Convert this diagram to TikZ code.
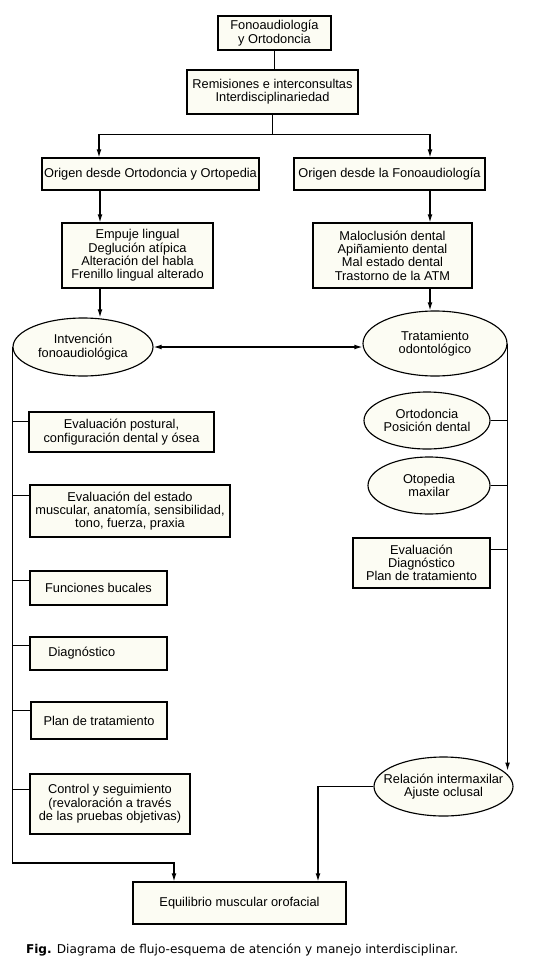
\documentclass[tikz,border=0pt]{standalone}
\usepackage{fontspec}
\setmainfont{Liberation Sans}
\newfontfamily\capfont{DejaVu Sans}
\usetikzlibrary{arrows.meta,positioning,calc,shapes.geometric}
\definecolor{boxCream}{RGB}{252,252,243}
\colorlet{cream}{boxCream}

\begin{document}
\begin{tikzpicture}[x=0.75pt,y=-0.75pt,>={Latex[length=6pt,width=3.6pt]},line width=0.85pt,
  sz/.style 2 args={minimum width=#1*0.75pt,minimum height=#2*0.75pt},
  box/.style={draw,fill=cream,inner sep=0pt,align=center,font=\fontsize{9.6}{10}\selectfont},
  oval/.style={draw,ellipse,fill=cream,inner xsep=-8pt,inner ysep=0pt,align=center,font=\fontsize{9.6}{10}\selectfont}]
\useasboundingbox (0,0) rectangle (554,975);
\node[box,sz={113}{34}] (top) at (274.5,33) {Fonoaudiología\\y Ortodoncia};
\node[box,sz={171}{44}] (rem) at (272.5,92) {Remisiones e interconsultas\\Interdisciplinariedad};
\node[box,sz={217}{32}] (origL) at (150.5,174) {Origen desde Ortodoncia y Ortopedia};
\node[box,sz={191}{32}] (origR) at (389.5,174) {Origen desde la Fonoaudiología};
\node[box,sz={151}{65}] (sympL) at (137.5,255.5) {Empuje lingual\\Deglución atípica\\Alteración del habla\\Frenillo lingual alterado};
\node[box,sz={159}{65}] (sympR) at (392.5,255.5) {Maloclusión dental\\Apiñamiento dental\\Mal estado dental\\Trastorno de la ATM};
\node[oval,sz={140}{58}] (intv) at (83,347) {Intvención\\fonoaudiológica};
\node[oval,sz={144}{65}] (trat) at (435,343.5) {Tratamiento\\odontológico};
% left column
\node[box,sz={185}{40}] (evp) at (121.5,432) {Evaluación postural,\\configuración dental y ósea};
\node[box,sz={200}{52}] (eve) at (130,511) {Evaluación del estado\\muscular, anatomía, sensibilidad,\\tono, fuerza, praxia};
\node[box,sz={137}{34}] (fun) at (98.5,588) {Funciones bucales};
\node[box,sz={137}{33}] (dia) at (98.5,653.5) {\hspace*{-25pt}Diagnóstico};
\node[box,sz={136}{37}] (plan) at (99,720.5) {Plan de tratamiento};
\node[box,sz={160}{60}] (ctrl) at (110,804) {Control y seguimiento\\(revaloración a través\\de las pruebas objetivas)};
% right column
\node[oval,sz={126}{57}] (ort) at (427,420.5) {Ortodoncia\\Posición dental};
\node[oval,sz={122}{57}] (otp) at (429,485.5) {Otopedia\\maxilar};
\node[box,sz={137}{50}] (evd) at (421.5,563) {Evaluación\\Diagnóstico\\Plan de tratamiento};
\node[oval,sz={139}{59}] (rel) at (443.5,786.5) {Relación intermaxilar\\Ajuste oclusal};
\node[box,sz={213}{42}] (eq) at (239.5,903) {Equilibrio muscular orofacial};
\node[anchor=west,font=\capfont\fontsize{9.1}{11}\selectfont] (cap) at (21,950) {\textbf{Fig.} Diagrama de flujo-esquema de atención y manejo interdisciplinar.};
% connectors
\draw (top) -- (top.south |- rem.north);
\coordinate (split) at ($(rem.south)+(0,20)$);
\draw (rem.south) -- (split);
\draw[->] (split) -| ($(origL.north)+(-51.5,0)$);
\draw[->] (split) -| ($(origR.north)+(40.5,0)$);
\coordinate (aL) at ($(origL.south)+(-50.5,0)$);
\draw[->] (aL) -- (aL |- sympL.north);
\coordinate (bL) at (aL |- sympL.south);
\draw[->] (bL) -- (bL |- intv.north);
\coordinate (aR) at ($(origR.south)+(40.5,0)$);
\draw[->] (aR) -- (aR |- sympR.north);
\coordinate (bR) at (aR |- sympR.south);
\draw[->] (bR) -- (bR |- trat.north);
\draw[<->] (intv.east) -- (trat.west |- intv.east);
% left trunk
\coordinate (eqL) at ($(eq.north)+(-65.5,0)$);
\draw[->] (intv.west) -- ++(0,516) -| (eqL);
\foreach \n/\dy in {evp/10,eve/11,fun/10,dia/9,plan/9,ctrl/16}{
  \coordinate (p) at ($(\n.north west)+(0,\dy)$);
  \draw (p) -- (p -| intv.west);
}
% right trunk
\draw[->] (trat.east) -- (trat.east |- rel.15);
\foreach \n in {ort,otp}
  \draw (\n.east) -- (\n.east -| trat.east);
\coordinate (q) at ($(evd.north east)+(0,12)$);
\draw (q) -- (q -| trat.east);
\coordinate (eqR) at ($(eq.north)+(78.5,0)$);
\draw[->] (rel.west) -| (eqR);
\end{tikzpicture}
\end{document}
